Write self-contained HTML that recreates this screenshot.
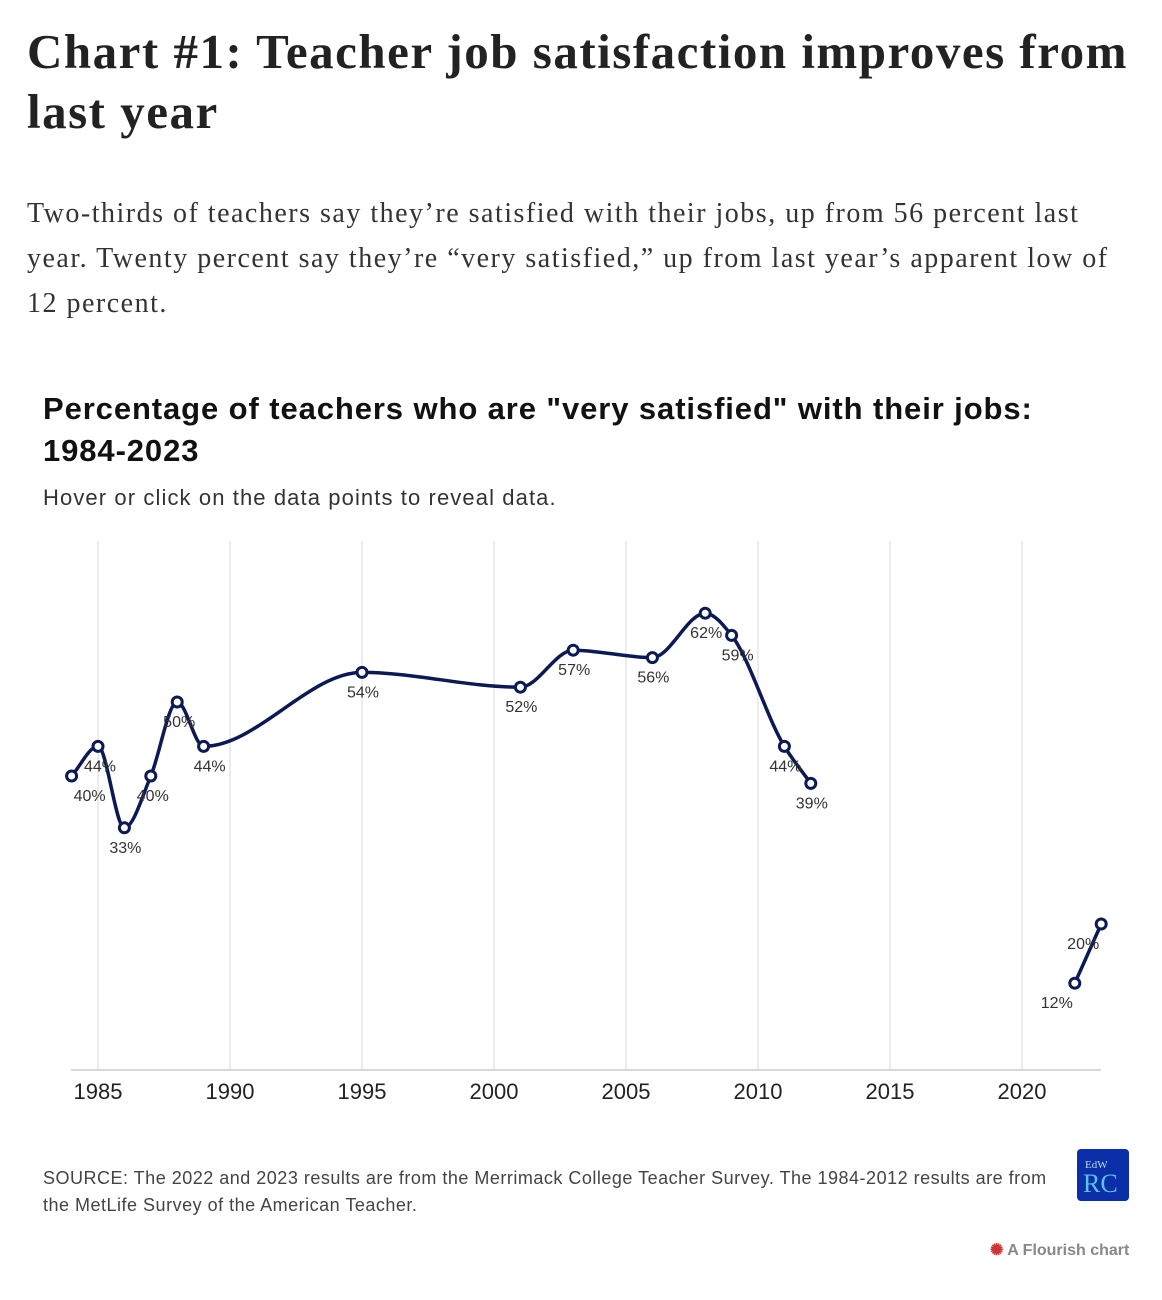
<!DOCTYPE html>
<html><head><meta charset="utf-8">
<style>
body{margin:0;background:#fff;width:1162px;height:1300px;overflow:hidden;position:relative;font-family:"Liberation Sans",sans-serif;color:#222}
h1{position:absolute;left:27px;top:22px;margin:0;font-family:"Liberation Serif",serif;font-weight:bold;font-size:49px;line-height:60px;color:#222;white-space:nowrap;letter-spacing:1.5px}
.intro{position:absolute;left:27px;top:191px;margin:0;font-family:"Liberation Serif",serif;font-size:28px;line-height:45px;color:#333;white-space:nowrap;letter-spacing:1.5px}
.ct{position:absolute;left:43px;top:388px;margin:0;font-weight:bold;font-size:31px;line-height:42px;color:#111;white-space:nowrap;letter-spacing:0.9px}
.cd{position:absolute;left:43px;top:485px;font-size:22px;color:#333;letter-spacing:1.1px}
.src{position:absolute;left:43px;top:1165px;font-size:18px;line-height:27px;color:#444;white-space:nowrap;letter-spacing:0.5px}
.logo{position:absolute;left:1077px;top:1149px;width:52px;height:52px;background:#0a2fa8;border-radius:4px;color:#5cc0e8;font-family:"Liberation Serif",serif}
.fl{position:absolute;left:990px;top:1240px;font-size:16px;font-weight:bold;color:#888}
</style></head><body>
<h1>Chart #1: Teacher job satisfaction improves from<br>last year</h1>
<p class="intro">Two-thirds of teachers say they’re satisfied with their jobs, up from 56 percent last<br>year. Twenty percent say they’re “very satisfied,” up from last year’s apparent low of<br>12 percent.</p>
<p class="ct">Percentage of teachers who are "very satisfied" with their jobs:<br>1984-2023</p>
<div class="cd">Hover or click on the data points to reveal data.</div>
<svg id="chart" width="1162" height="1120" style="position:absolute;left:0;top:0" xmlns="http://www.w3.org/2000/svg"></svg>
<div class="src">SOURCE: The 2022 and 2023 results are from the Merrimack College Teacher Survey. The 1984-2012 results are from<br>the MetLife Survey of the American Teacher.</div>
<div class="logo"><div style="position:absolute;left:8px;top:10px;font-size:11px;color:#bde">EdW</div><div style="position:absolute;left:6px;top:20px;font-size:26px">RC</div></div>
<div class="fl"><span style="color:#c33">✺</span> A Flourish chart</div>
<script>
const years=[1984,1985,1986,1987,1988,1989,1995,2001,2003,2006,2008,2009,2011,2012,2022,2023];
const values=[40,44,33,40,50,44,54,52,57,56,62,59,44,39,12,20];
const segments=[[0,14],[14,16]];
const labelDx=[18,2,1,2,2,6,1,1,1,1,1,6,1,1,-18,-18];
const tickYears=[1985,1990,1995,2000,2005,2010,2015,2020];
const svg=document.getElementById('chart');const NS='http://www.w3.org/2000/svg';
const x=y=>98+(y-1985)*26.4;const yv=v=>1072-7.4*v;
function mk(t,a){const e=document.createElementNS(NS,t);for(const k in a)e.setAttribute(k,a[k]);svg.appendChild(e);return e;}
tickYears.forEach(t=>{
 const g=mk('line',{x1:x(t),x2:x(t),y1:541,y2:1070,stroke:'#e6e6e6','stroke-width':1.5});
 
 
 const l=mk('text',{x:x(t),y:1099,'text-anchor':'middle','font-size':22,fill:'#222','font-family':'Liberation Sans, sans-serif'});l.textContent=t;
 
 
});
const ax=mk('line',{x1:71,x2:1101,y1:1070,y2:1070,stroke:'#ccc','stroke-width':1.5});


function monotone(px,py){
 const n=px.length;if(n<3){return 'M'+px.map((v,i)=>v+','+py[i]).join('L');}
 const d=[],m=[];for(let i=0;i<n-1;i++)d.push((py[i+1]-py[i])/(px[i+1]-px[i]));
 m[0]=d[0];m[n-1]=d[n-2];
 for(let i=1;i<n-1;i++){
  const h0=px[i]-px[i-1],h1=px[i+1]-px[i];const s0=d[i-1],s1=d[i];
  m[i]=(s0*s1<=0)?0:(Math.sign(s0)+Math.sign(s1))*Math.min(Math.abs(s0),Math.abs(s1),0.5*Math.abs((s0*h1+s1*h0)/(h0+h1)));}
 let p='M'+px[0]+','+py[0];
 for(let i=0;i<n-1;i++){const h=(px[i+1]-px[i])/3;p+='C'+(px[i]+h)+','+(py[i]+m[i]*h)+' '+(px[i+1]-h)+','+(py[i+1]-m[i+1]*h)+' '+px[i+1]+','+py[i+1];}
 return p;}
segments.forEach((s,k)=>{
 const px=years.slice(s[0],s[1]).map(x),py=values.slice(s[0],s[1]).map(yv);
 const p=mk('path',{d:monotone(px,py),fill:'none',stroke:'#0b1a55','stroke-width':3.5});
 
 
});
years.forEach((yr,i)=>{
 const c=mk('circle',{cx:x(yr),cy:yv(values[i]),r:5,fill:'#fff',stroke:'#0b1a55','stroke-width':3});
 
 
 const t=mk('text',{x:x(yr)+labelDx[i],y:yv(values[i])+25,'text-anchor':'middle','font-size':16,fill:'#333','font-family':'Liberation Sans, sans-serif'});
 t.textContent=values[i]+'%';
 
 
});
</script>
</body></html>
